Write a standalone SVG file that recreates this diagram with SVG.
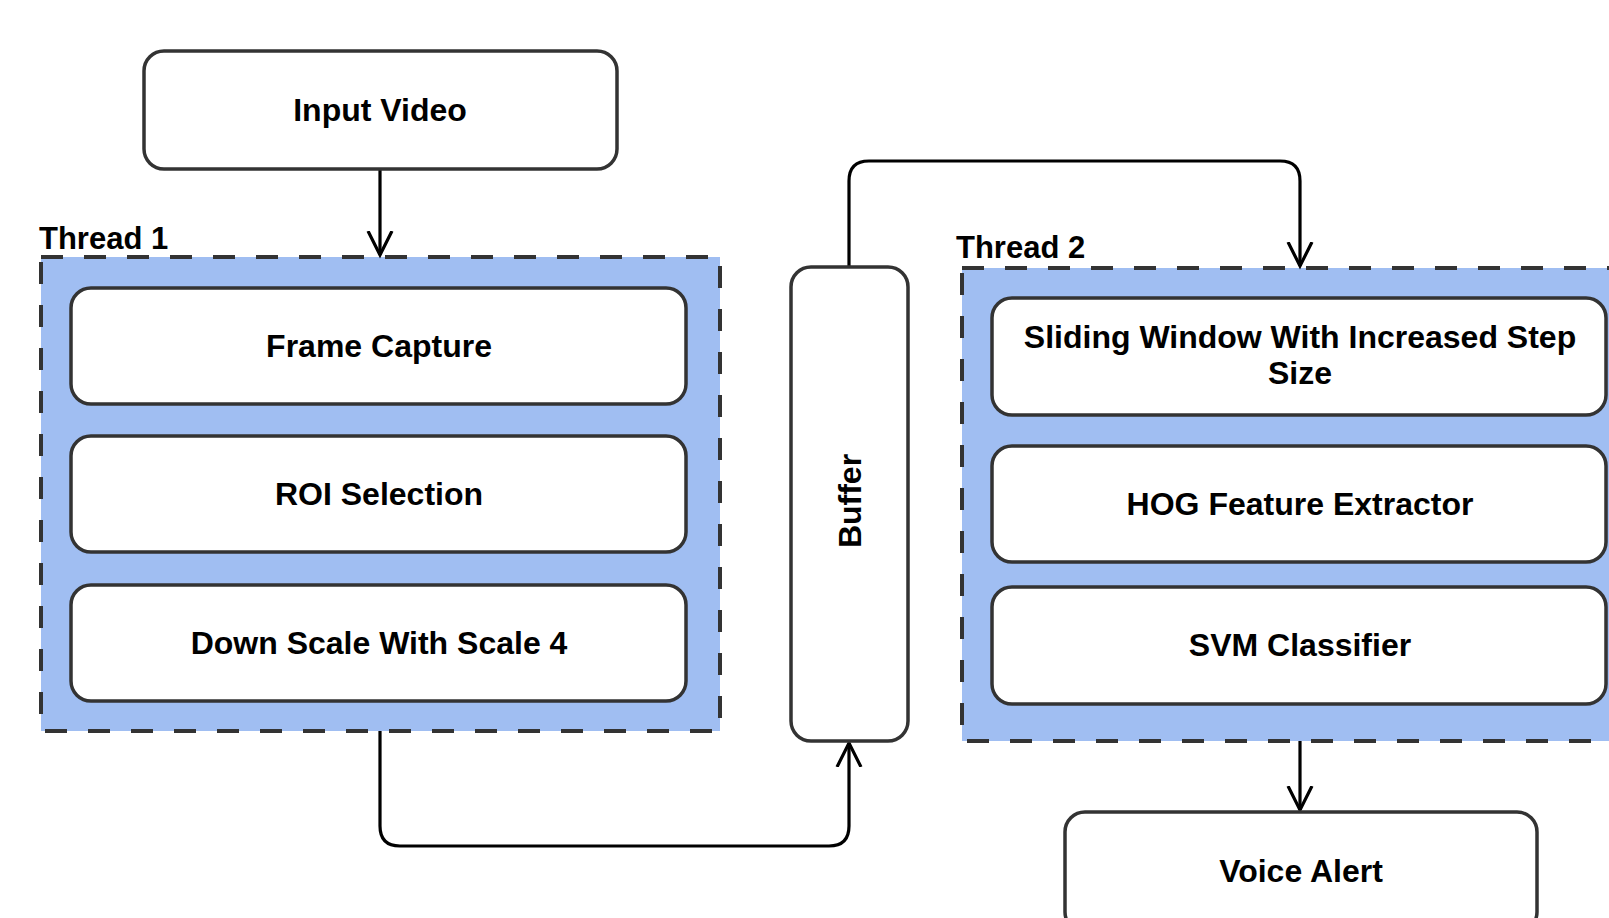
<svg xmlns="http://www.w3.org/2000/svg" width="1609" height="918" viewBox="0 0 1609 918">
  <style>
    .box { fill: #ffffff; stroke: #333333; stroke-width: 3.5; }
    .thread { fill: #A0BEF2; stroke: #333333; stroke-width: 4; stroke-dasharray: 22 21; }
    .lbl { font-family: "Liberation Sans", Arial, sans-serif; font-weight: bold; font-size: 32px; fill: #000000; text-anchor: middle; }
    .tlbl { font-family: "Liberation Sans", Arial, sans-serif; font-weight: bold; font-size: 31px; fill: #000000; }
    .conn { fill: none; stroke: #000000; stroke-width: 3.2; }
  </style>
  <defs>
    <marker id="arrow" markerUnits="userSpaceOnUse" markerWidth="30" markerHeight="30" refX="24" refY="12" orient="auto" viewBox="0 0 30 24">
      <path d="M0,0 L24,12 L0,24" fill="none" stroke="#000000" stroke-width="3.2"/>
    </marker>
  </defs>
  <rect width="1609" height="918" fill="#ffffff"/>

  <g id="thread1">
    <rect class="thread" x="41" y="257" width="679" height="474"/>
    <text class="tlbl" x="39" y="249">Thread 1</text>
  </g>
  <g id="thread2">
    <rect class="thread" x="962" y="268" width="680" height="473"/>
    <text class="tlbl" x="956" y="258">Thread 2</text>
  </g>

  <g id="connectors">
    <path class="conn" d="M380,170 L380,255" marker-end="url(#arrow)"/>
    <path class="conn" d="M380,731 L380,826 Q380,846 400,846 L829,846 Q849,846 849,826 L849,743" marker-end="url(#arrow)"/>
    <path class="conn" d="M849,266 L849,181 Q849,161 869,161 L1280,161 Q1300,161 1300,181 L1300,266" marker-end="url(#arrow)"/>
    <path class="conn" d="M1300,741 L1300,810" marker-end="url(#arrow)"/>
  </g>

  <g id="input-video">
    <rect class="box" x="144" y="51" width="473" height="118" rx="20"/>
    <text class="lbl" x="380" y="121">Input Video</text>
  </g>
  <g id="frame-capture">
    <rect class="box" x="71" y="288" width="615" height="116" rx="20"/>
    <text class="lbl" x="379" y="357">Frame Capture</text>
  </g>
  <g id="roi-selection">
    <rect class="box" x="71" y="436" width="615" height="116" rx="20"/>
    <text class="lbl" x="379" y="505">ROI Selection</text>
  </g>
  <g id="down-scale">
    <rect class="box" x="71" y="585" width="615" height="116" rx="20"/>
    <text class="lbl" x="379" y="654">Down Scale With Scale 4</text>
  </g>
  <g id="buffer">
    <rect class="box" x="791" y="267" width="117" height="474" rx="20"/>
    <text class="lbl" transform="translate(861,501) rotate(-90)" x="0" y="0">Buffer</text>
  </g>
  <g id="sliding-window">
    <rect class="box" x="992" y="298" width="614" height="117" rx="20"/>
    <text class="lbl" x="1300" y="348">Sliding Window With Increased Step</text>
    <text class="lbl" x="1300" y="384">Size</text>
  </g>
  <g id="hog">
    <rect class="box" x="992" y="446" width="614" height="116" rx="20"/>
    <text class="lbl" x="1300" y="515">HOG Feature Extractor</text>
  </g>
  <g id="svm">
    <rect class="box" x="992" y="587" width="614" height="117" rx="20"/>
    <text class="lbl" x="1300" y="656">SVM Classifier</text>
  </g>
  <g id="voice-alert">
    <rect class="box" x="1065" y="812" width="472" height="120" rx="20"/>
    <text class="lbl" x="1301" y="882">Voice Alert</text>
  </g>
</svg>
